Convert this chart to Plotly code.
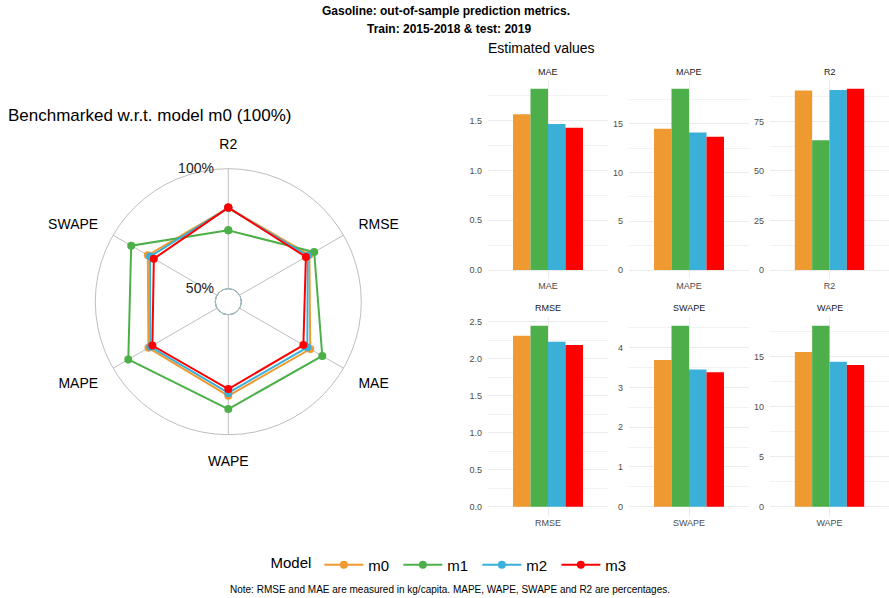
import plotly.graph_objects as go

# ---------------- data ----------------
models = ["m0", "m1", "m2", "m3"]
colors = ["#EE9A30", "#4DAF4A", "#3AAFD8", "#FF0000"]

# radar: benchmarked values (%) per axis
radar_axes = ["R2", "RMSE", "MAE", "WAPE", "MAPE", "SWAPE"]
radar_m0 = [83.7, 83.6, 84.0, 83.8, 83.0, 83.3]
radar_m1 = [74.3, 85.9, 89.8, 89.3, 92.7, 91.3]
radar_m2 = [83.7, 82.8, 82.6, 82.6, 82.1, 82.2]
radar_m3 = [83.8, 81.9, 80.7, 81.0, 81.1, 80.4]
radar_values = [radar_m0, radar_m1, radar_m2, radar_m3]
radar_ticks = [50, 100]
radar_ticktext = ["50%", "100%"]

# estimated values per metric (m0, m1, m2, m3)
metrics = ["MAE", "MAPE", "R2", "RMSE", "SWAPE", "WAPE"]
mae = [1.565, 1.822, 1.467, 1.430]
mape = [14.48, 18.60, 14.10, 13.66]
r2 = [90.6, 65.5, 90.8, 91.5]
rmse = [2.311, 2.446, 2.230, 2.185]
swape = [3.69, 4.55, 3.45, 3.38]
wape = [15.47, 18.10, 14.51, 14.18]
metric_values = [mae, mape, r2, rmse, swape, wape]
metric_dtick = [0.5, 5, 25, 0.5, 1, 5]
metric_format = [".1f", "d", "d", ".1f", "d", "d"]

W, H = 889, 598
FONT = "Liberation Sans, Arial, sans-serif"


def px(x):
    return x / W


def py(y):
    return 1 - y / H


fig = go.Figure()

# ---------------- radar ----------------
for m, c, vals in zip(models, colors, radar_values):
    fig.add_trace(go.Scatterpolar(
        r=vals + [vals[0]],
        theta=radar_axes + [radar_axes[0]],
        mode="lines+markers",
        name=m,
        line=dict(color=c, width=2),
        marker=dict(color=c, size=8),
        subplot="polar",
        legendgroup=m,
    ))

POL_X = [px(95.3), px(361.3)]
POL_Y = [py(434.7), py(168.7)]
HOLE = 0.098

# ---------------- bars ----------------
col_dom = [[px(488), px(608)], [px(629), px(749)], [px(770), 1.0]]
row_dom = [[py(279.1), py(79.6)], [py(515.8), py(316.7)]]
strip_y = [py(71.7), py(308.3)]

annotations = []
layout_axes = {}
for k, (met, vals) in enumerate(zip(metrics, metric_values)):
    idx = k + 1
    r, c = divmod(k, 3)
    for m, col, v in zip(models, colors, vals):
        fig.add_trace(go.Bar(
            x=[met], y=[v], name=m, marker=dict(color=col, line=dict(width=0)),
            xaxis=f"x{idx}", yaxis=f"y{idx}", showlegend=False, legendgroup=m,
        ))
    vmax = max(vals)
    xname = "xaxis" if idx == 1 else f"xaxis{idx}"
    yname = "yaxis" if idx == 1 else f"yaxis{idx}"
    layout_axes[xname] = dict(
        domain=col_dom[c], anchor=f"y{idx}", type="category",
        showgrid=True, gridcolor="#EBEBEB", gridwidth=1, showline=False,
        ticks="", tickfont=dict(size=9, color="#4D4D4D", family=FONT),
        zeroline=False,
    )
    layout_axes[yname] = dict(
        domain=row_dom[r], anchor=f"x{idx}",
        range=[-0.05 * vmax, 1.05 * vmax],
        tick0=0, dtick=metric_dtick[k], tickformat=metric_format[k],
        showgrid=True, gridcolor="#EBEBEB", gridwidth=1,
        minor=dict(dtick=metric_dtick[k] / 2, tick0=0, showgrid=True,
                   gridcolor="#F2F2F2", gridwidth=1),
        zeroline=False, showline=False, ticks="",
        ticklabelstandoff=5,
        tickfont=dict(size=9, color="#4D4D4D", family=FONT),
    )
    annotations.append(dict(
        text=met, x=sum(col_dom[c]) / 2, y=strip_y[r], xref="paper", yref="paper",
        xanchor="center", yanchor="middle", showarrow=False,
        font=dict(size=9, color="#1A1A1A", family=FONT),
    ))

annotations += [
    dict(text="<b>Gasoline: out-of-sample prediction metrics.</b>", x=px(446), y=py(11),
         xref="paper", yref="paper", xanchor="center", yanchor="middle", showarrow=False,
         font=dict(size=12, color="#000000", family=FONT)),
    dict(text="<b>Train: 2015-2018 & test: 2019</b>", x=px(449), y=py(29),
         xref="paper", yref="paper", xanchor="center", yanchor="middle", showarrow=False,
         font=dict(size=12, color="#000000", family=FONT)),
    dict(text="Estimated values", x=px(541), y=py(48),
         xref="paper", yref="paper", xanchor="center", yanchor="middle", showarrow=False,
         font=dict(size=14, color="#000000", family=FONT)),
    dict(text="Benchmarked w.r.t. model m0 (100%)", x=px(6), y=py(116),
         xref="paper", yref="paper", xanchor="left", yanchor="middle", showarrow=False,
         font=dict(size=17, color="#000000", family=FONT)),
    dict(text="Note: RMSE and MAE are measured in kg/capita. MAPE, WAPE, SWAPE and R2 are percentages.",
         x=px(450), y=py(589),
         xref="paper", yref="paper", xanchor="center", yanchor="middle", showarrow=False,
         font=dict(size=10, color="#000000", family=FONT)),
]

# teal mid-grid circle (50%) at the edge of the radar hole
cx, cy = sum(POL_X) / 2, sum(POL_Y) / 2
rx = (POL_X[1] - POL_X[0]) / 2 * HOLE
ry = (POL_Y[1] - POL_Y[0]) / 2 * HOLE
shapes = [dict(type="circle", xref="paper", yref="paper",
               x0=cx - rx, x1=cx + rx, y0=cy - ry, y1=cy + ry,
               line=dict(color="#007A87", width=1), layer="below")]

fig.update_layout(
    width=W, height=H,
    margin=dict(l=0, r=0, t=0, b=0),
    paper_bgcolor="white", plot_bgcolor="white",
    font=dict(family=FONT, color="#000000"),
    barmode="group", bargap=0.417, bargroupgap=0,
    polar=dict(
        domain=dict(x=POL_X, y=POL_Y),
        bgcolor="rgba(0,0,0,0)",
        hole=HOLE,
        radialaxis=dict(
            range=[50, 100], tickvals=radar_ticks, ticktext=radar_ticktext,
            angle=90, side="counterclockwise", tickangle=90, showline=False,
            showgrid=False, ticks="outside", ticklen=9, tickcolor="rgba(0,0,0,0)",
            tickfont=dict(size=14, color="#222222", family=FONT),
        ),
        angularaxis=dict(
            type="category", categoryorder="array", categoryarray=radar_axes,
            rotation=90, direction="clockwise",
            showline=True, linecolor="#BEBEBE", linewidth=1,
            showgrid=True, gridcolor="#BEBEBE", gridwidth=1,
            ticks="outside", ticklen=14, tickcolor="rgba(0,0,0,0)",
            tickfont=dict(size=14, color="#000000", family=FONT),
        ),
    ),
    legend=dict(
        orientation="h", x=px(452), xanchor="center", y=py(565), yanchor="middle",
        title=dict(text="Model", side="left", font=dict(size=15, family=FONT)),
        font=dict(size=15, family=FONT),
        itemwidth=39, entrywidth=25, entrywidthmode="pixels",
        bgcolor="rgba(0,0,0,0)",
    ),
    shapes=shapes,
    annotations=annotations,
    **layout_axes,
)

fig.write_html("out.html", config={"displayModeBar": False},
               post_script="document.body.style.margin='0px';")
